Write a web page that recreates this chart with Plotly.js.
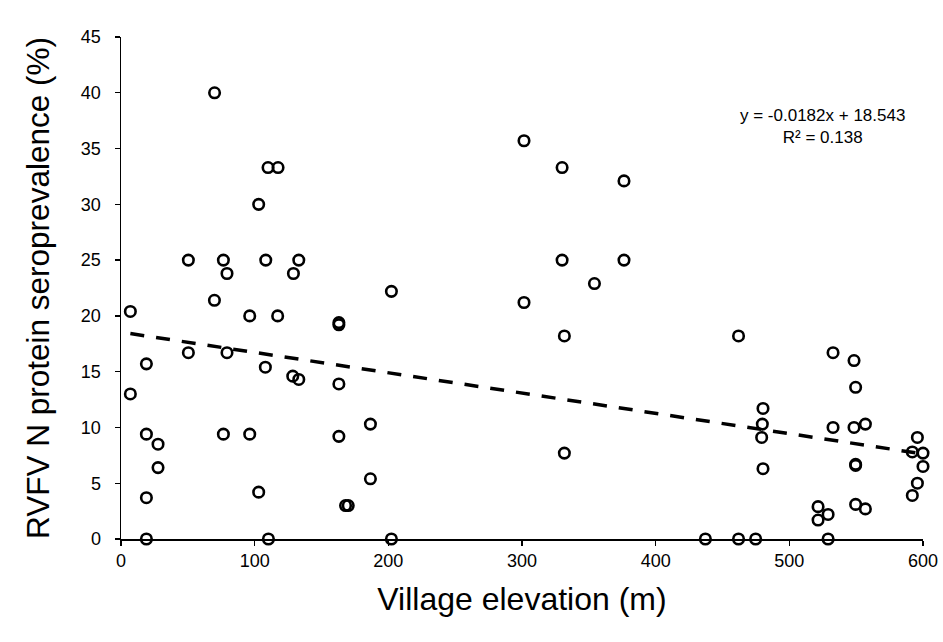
<!DOCTYPE html>
<html>
<head>
<meta charset="utf-8">
<script src="https://cdn.plot.ly/plotly-3.0.1.min.js"></script>
<style>
html,body{margin:0;padding:0;background:#fff;}
#chart{width:943px;height:642px;}
</style>
</head>
<body>
<div id="chart"></div>
<script>
// Village elevation (m)
const elevation = [
  70, 110, 117.5, 103, 50.4, 76.6, 108.3, 133, 79.3, 129,
  202.3, 7, 69.9, 96.3, 117.2, 163, 163, 50.4, 79.3, 19,
  7, 108, 128.5, 133, 163, 19, 76.6, 96.3, 163, 27.7,
  186.6, 27.7, 19, 103, 186.6, 168, 170, 19, 110.3, 202.3,
  301.5, 330, 376.3, 330, 376.3, 354.2, 301.5, 331.7, 331.7, 462,
  532.7, 548.4, 549.6, 480.3, 479.8, 479.3, 480.3, 532.7, 548.4, 556.9,
  549.6, 549.6, 549.6, 556.9, 521.5, 529, 521.5, 529, 437.2, 462,
  474.8, 595.8, 592, 600, 600, 595.8, 592
];
// RVFV N protein seroprevalence (%)
const seroprevalence = [
  40, 33.3, 33.3, 30, 25, 25, 25, 25, 23.8, 23.8,
  22.2, 20.4, 21.4, 20, 20, 19.4, 19.2, 16.7, 16.7, 15.7,
  13, 15.4, 14.6, 14.3, 13.9, 9.4, 9.4, 9.4, 9.2, 8.5,
  10.3, 6.4, 3.7, 4.2, 5.4, 3.0, 3.0, 0, 0, 0,
  35.7, 33.3, 32.1, 25, 25, 22.9, 21.2, 18.2, 7.7, 18.2,
  16.7, 16.0, 13.6, 11.7, 10.3, 9.1, 6.3, 10.0, 10.0, 10.3,
  6.6, 6.7, 3.1, 2.7, 2.9, 2.2, 1.7, 0, 0, 0,
  0, 9.1, 7.8, 7.7, 6.5, 5.0, 3.9
];
// Linear trendline reported on the chart
const trendSlope = -0.0182;
const trendIntercept = 18.543;
const trendLabel = ["y = -0.0182x + 18.543", "R\u00b2 = 0.138"];
const xTickVals = [0, 100, 200, 300, 400, 500, 600];
const yTickVals = [0, 5, 10, 15, 20, 25, 30, 35, 40, 45];

const xMin = Math.min(...elevation), xMax = Math.max(...elevation);
const trendX = [xMin, xMax];
const trendY = trendX.map(x => trendSlope * x + trendIntercept);

const FONT = "Arial, 'Liberation Sans', sans-serif";

const traces = [
  {
    x: trendX, y: trendY, type: 'scatter', mode: 'lines',
    line: {color: '#000', width: 3.5, dash: '14px,12px'},
    hoverinfo: 'skip', cliponaxis: false
  },
  {
    x: elevation, y: seroprevalence, type: 'scatter', mode: 'markers',
    marker: {symbol: 'circle-open', size: 10.5, color: '#000', line: {color: '#000', width: 2.6}},
    cliponaxis: false
  }
];

const layout = {
  width: 943, height: 642,
  margin: {l: 121, r: 20, t: 37, b: 103},
  paper_bgcolor: '#fff', plot_bgcolor: '#fff',
  showlegend: false,
  font: {family: FONT, color: '#000'},
  xaxis: {
    range: [0, 600], tickvals: xTickVals, ticks: 'outside', ticklen: 5, tickwidth: 1.3,
    tickcolor: '#000', showline: true, linecolor: '#000', linewidth: 1.5,
    showgrid: false, zeroline: false, tickfont: {size: 18, family: FONT, color: '#000'},
    title: {text: 'Village elevation (m)', font: {size: 32, family: FONT, color: '#000'}, standoff: 17}
  },
  yaxis: {
    range: [0, 45], tickvals: yTickVals, ticks: 'outside', ticklen: 5, tickwidth: 1.3,
    tickcolor: '#000', showline: true, linecolor: '#000', linewidth: 1.5,
    showgrid: false, zeroline: false, tickfont: {size: 18, family: FONT, color: '#000'},
    ticklabelstandoff: 10,
    title: {text: 'RVFV N protein seroprevalence (%)', font: {size: 31.5, family: FONT, color: '#000'}, standoff: 22}
  },
  annotations: [{
    x: 525, y: 37.0, xref: 'x', yref: 'y',
    text: trendLabel.join('<br>'), showarrow: false, align: 'center',
    font: {size: 17, family: FONT, color: '#000'}
  }]
};

Plotly.newPlot('chart', traces, layout, {displayModeBar: false, staticPlot: true});
</script>
</body>
</html>
